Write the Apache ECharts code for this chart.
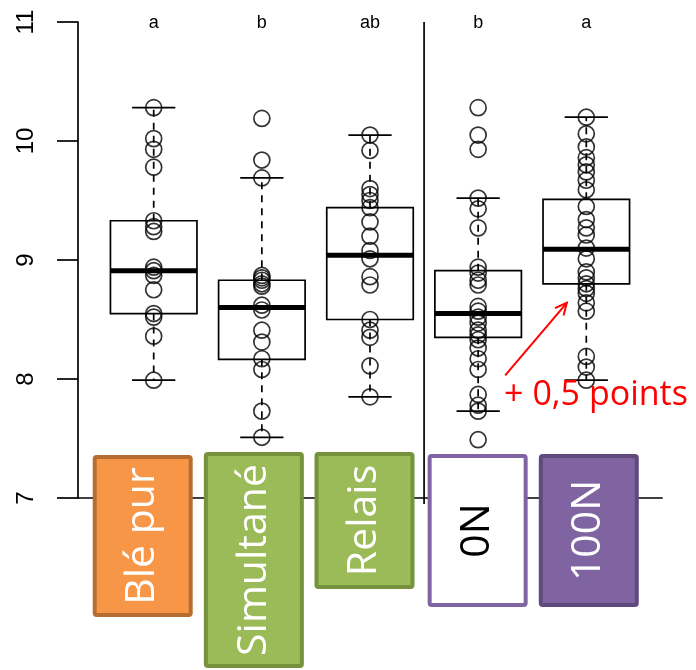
<!DOCTYPE html>
<html>
<head>
<meta charset="utf-8">
<script src="https://cdn.jsdelivr.net/npm/echarts@6/dist/echarts.min.js"></script>
<style>
  html, body { margin: 0; padding: 0; background: #fff; }
  #chart { width: 696px; height: 670px; }
</style>
</head>
<body>
<div id="chart"></div>
<script>
// Grain yield by cropping system (Blé pur / Simultané / Relais) and nitrogen level (0N / 100N)
const categories = ['Blé pur', 'Simultané', 'Relais', '0N', '100N'];
const groupLetters = ['a', 'b', 'ab', 'b', 'a'];
const yTicks = [7, 8, 9, 10, 11];

// Box statistics per group
const whiskerLow  = [7.99, 7.51, 7.85, 7.73, 7.99];
const quartile1   = [8.55, 8.165, 8.50, 8.35, 8.80];
const medians     = [8.91, 8.60, 9.04, 8.55, 9.09];
const quartile3   = [9.33, 8.83, 9.44, 8.91, 9.51];
const whiskerHigh = [10.28, 9.69, 10.05, 9.52, 10.20];

// Individual observations per group
const pointsBlePur    = [10.28, 10.02, 9.93, 9.78, 9.33, 9.28, 9.24, 8.94, 8.91, 8.87, 8.75, 8.55, 8.52, 8.36, 7.99];
const pointsSimultane = [10.19, 9.84, 9.69, 8.87, 8.85, 8.83, 8.80, 8.78, 8.62, 8.58, 8.41, 8.31, 8.17, 8.08, 7.73, 7.51];
const pointsRelais    = [10.05, 9.92, 9.60, 9.55, 9.50, 9.44, 9.32, 9.20, 9.08, 9.01, 8.86, 8.79, 8.50, 8.41, 8.35, 8.11, 7.85];
const points0N        = [10.28, 10.05, 9.93, 9.52, 9.43, 9.27, 8.94, 8.89, 8.83, 8.79, 8.61, 8.57, 8.52, 8.47, 8.41, 8.37, 8.33, 8.26, 8.17, 8.08, 7.87, 7.78, 7.73, 7.49];
const points100N      = [10.20, 10.06, 9.95, 9.86, 9.80, 9.74, 9.67, 9.59, 9.45, 9.34, 9.27, 9.21, 9.10, 9.01, 8.90, 8.85, 8.80, 8.76, 8.72, 8.64, 8.57, 8.19, 8.10, 7.99];
const groupPoints = [pointsBlePur, pointsSimultane, pointsRelais, points0N, points100N];

const gainLabel = '+ 0,5 points';

// ---- layout / style settings ----
const BOX_HALF = 0.4;   // half box width, in category units
const CAP_HALF = 0.2;   // half whisker-cap width
const DIVIDER_AFTER = 3; // vertical separator between the cropping and nitrogen groups
const ANNOT = { from: [4.25, 8.03], to: [4.82, 8.64], text: [4.24, 7.86] };
const TAG_STYLE = [
  { dx: -11,  top: -43, h: 162, fill: '#F79646', stroke: '#B86D30', color: '#fff' },
  { dx: -8,   top: -46, h: 216, fill: '#9BBB59', stroke: '#76923C', color: '#fff' },
  { dx: -5.5, top: -46, h: 137, fill: '#9BBB59', stroke: '#76923C', color: '#fff' },
  { dx: -0.5, top: -44, h: 153, fill: '#FFFFFF', stroke: '#8064A2', color: '#000' },
  { dx: 2.5,  top: -44, h: 153, fill: '#8064A2', stroke: '#5E4A7C', color: '#fff' }
];
const TAG_W = 100;
const LINE_W = 1.7;
const AXIS_FONT = '"Liberation Sans", Arial, sans-serif';
const TAG_FONT = '"Open Sans", "Noto Sans", sans-serif';

const boxData = categories.map((c, i) =>
  [i + 1, whiskerLow[i], quartile1[i], medians[i], quartile3[i], whiskerHigh[i]]);
const pointData = [];
groupPoints.forEach((arr, i) => arr.forEach(v => pointData.push([i + 1, v])));
const letterData = categories.map((c, i) => [i + 1, yTicks[yTicks.length - 1]]);
const tagData = categories.map((c, i) => [i + 1, yTicks[0]]);

function renderBox(params, api) {
  const x = api.value(0);
  const lo = api.value(1), a = api.value(2), m = api.value(3), b = api.value(4), hi = api.value(5);
  const c = (xx, yy) => api.coord([xx, yy]);
  const dash = { stroke: '#000', lineWidth: LINE_W, lineDash: [7, 6], fill: null };
  const solid = { stroke: '#000', lineWidth: LINE_W, fill: null };
  const tl = c(x - BOX_HALF, b), br = c(x + BOX_HALF, a);
  const ml = c(x - BOX_HALF, m), mr = c(x + BOX_HALF, m);
  const pb = c(x, a), pt = c(x, b), plo = c(x, lo), phi = c(x, hi);
  const capL = c(x - CAP_HALF, lo), capR = c(x + CAP_HALF, lo);
  const capL2 = c(x - CAP_HALF, hi), capR2 = c(x + CAP_HALF, hi);
  return {
    type: 'group',
    children: [
      { type: 'line', shape: { x1: pb[0], y1: pb[1], x2: plo[0], y2: plo[1] }, style: dash },
      { type: 'line', shape: { x1: pt[0], y1: pt[1], x2: phi[0], y2: phi[1] }, style: dash },
      { type: 'line', shape: { x1: capL[0], y1: capL[1], x2: capR[0], y2: capR[1] }, style: solid },
      { type: 'line', shape: { x1: capL2[0], y1: capL2[1], x2: capR2[0], y2: capR2[1] }, style: solid },
      { type: 'rect', shape: { x: tl[0], y: tl[1], width: br[0] - tl[0], height: br[1] - tl[1] }, style: solid },
      { type: 'line', shape: { x1: ml[0], y1: ml[1], x2: mr[0], y2: mr[1] }, style: { stroke: '#000', lineWidth: 5, lineCap: 'butt' } }
    ]
  };
}

function renderLetter(params, api) {
  const p = api.coord([api.value(0), api.value(1)]);
  return {
    type: 'text',
    x: p[0], y: p[1] + 1,
    style: { text: groupLetters[params.dataIndex], font: '18px ' + AXIS_FONT, fill: '#000', align: 'center', verticalAlign: 'middle' }
  };
}

function renderDecor(params, api) {
  const top = api.coord([DIVIDER_AFTER + 0.5, yTicks[yTicks.length - 1]]);
  const bot = api.coord([DIVIDER_AFTER + 0.5, yTicks[0]]);
  const f = api.coord(ANNOT.from), t = api.coord(ANNOT.to), tx = api.coord(ANNOT.text);
  const ang = Math.atan2(t[1] - f[1], t[0] - f[0]);
  const hl = 13, spread = 0.45;
  const h1 = [t[0] - hl * Math.cos(ang - spread), t[1] - hl * Math.sin(ang - spread)];
  const h2 = [t[0] - hl * Math.cos(ang + spread), t[1] - hl * Math.sin(ang + spread)];
  const red = { stroke: '#FF0000', lineWidth: 2, fill: null };
  return {
    type: 'group',
    children: [
      { type: 'line', shape: { x1: top[0], y1: top[1], x2: bot[0], y2: bot[1] + 6 }, style: { stroke: '#000', lineWidth: LINE_W } },
      { type: 'line', shape: { x1: f[0], y1: f[1], x2: t[0], y2: t[1] }, style: red },
      { type: 'polyline', shape: { points: [h1, t, h2] }, style: red },
      { type: 'text', x: tx[0], y: tx[1], style: { text: gainLabel, font: '34px ' + TAG_FONT, fill: '#FF0000', align: 'left', verticalAlign: 'middle' } }
    ]
  };
}

function renderTag(params, api) {
  const s = TAG_STYLE[params.dataIndex];
  const p = api.coord([api.value(0), api.value(1)]);
  const cx = p[0] + s.dx;
  const top = p[1] + s.top;
  return {
    type: 'group',
    children: [
      { type: 'rect', shape: { x: cx - TAG_W / 2 + 2, y: top + 2, width: TAG_W - 4, height: s.h - 4, r: 2 },
        style: { fill: s.fill, stroke: s.stroke, lineWidth: 4 } },
      { type: 'text', x: cx, y: top + s.h / 2, rotation: Math.PI / 2,
        style: { text: categories[params.dataIndex], font: '41px ' + TAG_FONT, fill: s.color, align: 'center', verticalAlign: 'middle' } }
    ]
  };
}

const chart = echarts.init(document.getElementById('chart'), null, { renderer: 'canvas' });
chart.setOption({
  animation: false,
  backgroundColor: '#fff',
  grid: { left: 78, right: 34, top: 22, bottom: 172 },
  xAxis: {
    type: 'value', min: 0.3, max: 5.7,
    axisLine: { show: true, onZero: false, lineStyle: { color: '#000', width: LINE_W } },
    axisTick: { show: false }, axisLabel: { show: false }, splitLine: { show: false }
  },
  yAxis: {
    type: 'value', min: yTicks[0], max: yTicks[yTicks.length - 1], interval: 1,
    axisLine: { show: true, lineStyle: { color: '#000', width: LINE_W } },
    axisTick: { show: true, length: 21, lineStyle: { color: '#000', width: LINE_W } },
    axisLabel: { rotate: 90, margin: 40, fontSize: 24, fontFamily: AXIS_FONT, color: '#000' },
    splitLine: { show: false }
  },
  series: [
    { type: 'custom', name: 'boxes', renderItem: renderBox, data: boxData,
      encode: { x: 0, y: [1, 2, 3, 4, 5] }, silent: true, z: 2 },
    { type: 'scatter', name: 'observations', data: pointData, symbol: 'circle', symbolSize: 16,
      itemStyle: { color: 'rgba(0,0,0,0)', borderColor: '#000', borderWidth: 1.7 },
      silent: true, z: 3 },
    { type: 'custom', name: 'letters', renderItem: renderLetter, data: letterData,
      encode: { x: 0, y: 1 }, silent: true, z: 4 },
    { type: 'custom', name: 'decor', renderItem: renderDecor, data: [[0, 0]],
      encode: { x: 0, y: 1 }, silent: true, z: 4 },
    { type: 'custom', name: 'tags', renderItem: renderTag, data: tagData,
      encode: { x: 0, y: 1 }, silent: true, z: 6 }
  ]
});
</script>
</body>
</html>
